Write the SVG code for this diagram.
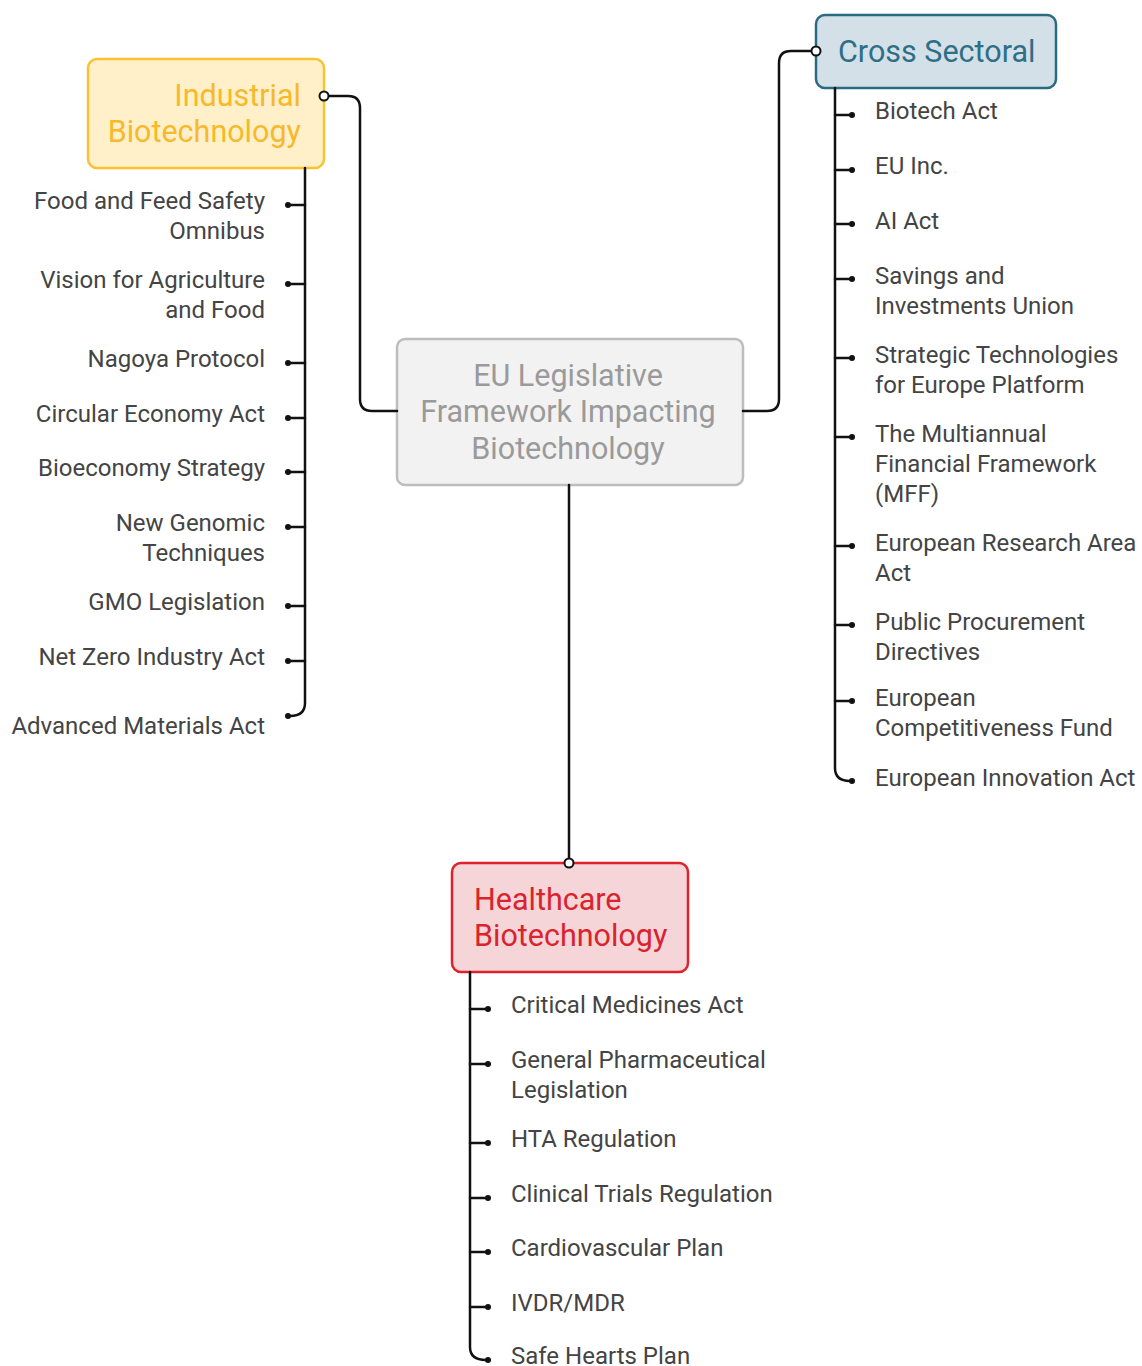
<svg xmlns="http://www.w3.org/2000/svg" width="1142" height="1366" viewBox="0 0 1142 1366">
<style>
.t{font-family:Roboto,"Liberation Sans",sans-serif;font-size:24px;fill:#444}
.r{text-anchor:end}
.h{font-family:Roboto,"Liberation Sans",sans-serif;font-size:30.5px}
.ln{fill:none;stroke:#111;stroke-width:2.5;stroke-linecap:round}
.dot{fill:#111}
.oc{fill:#fff;stroke:#111;stroke-width:2}
</style>
<rect width="1142" height="1366" fill="#fff"/>
<g id="central">
<rect x="397" y="339" width="346" height="146" rx="8" fill="#f2f2f2" stroke="#bdbdbd" stroke-width="2.5"/>
<text class="h" fill="#9a9a9a" text-anchor="middle"><tspan x="568" y="386">EU Legislative</tspan><tspan x="568" y="422">Framework Impacting</tspan><tspan x="568" y="459">Biotechnology</tspan></text>
</g>
<g id="industrial">
<rect x="88" y="59" width="236" height="109" rx="9" fill="#fff0c9" stroke="#f8c232" stroke-width="2.5"/>
<text class="h r" fill="#f6b92c"><tspan x="301" y="106">Industrial</tspan><tspan x="301" y="142">Biotechnology</tspan></text>
</g>
<g id="cross">
<rect x="816" y="15" width="240" height="73" rx="9" fill="#d4e0e7" stroke="#2b6b82" stroke-width="2.5"/>
<text class="h" fill="#2e6f88" x="838" y="62">Cross Sectoral</text>
</g>
<g id="healthcare">
<rect x="452" y="863" width="236" height="109" rx="9" fill="#f5d5d8" stroke="#e0212c" stroke-width="2.5"/>
<text class="h" fill="#d9232e"><tspan x="474" y="910">Healthcare</tspan><tspan x="474" y="946">Biotechnology</tspan></text>
</g>
<g id="industrial-items">
<text class="t r"><tspan x="265" y="209">Food and Feed Safety</tspan><tspan x="265" y="239">Omnibus</tspan></text>
<text class="t r"><tspan x="265" y="288">Vision for Agriculture</tspan><tspan x="265" y="318">and Food</tspan></text>
<text class="t r" x="265" y="367">Nagoya Protocol</text>
<text class="t r" x="265" y="422">Circular Economy Act</text>
<text class="t r" x="265" y="476">Bioeconomy Strategy</text>
<text class="t r"><tspan x="265" y="531">New Genomic</tspan><tspan x="265" y="561">Techniques</tspan></text>
<text class="t r" x="265" y="610">GMO Legislation</text>
<text class="t r" x="265" y="665">Net Zero Industry Act</text>
<text class="t r" x="265" y="734">Advanced Materials Act</text>
</g>
<g id="cross-items">
<text class="t" x="875" y="119">Biotech Act</text>
<text class="t" x="875" y="174">EU Inc.</text>
<text class="t" x="875" y="229">AI Act</text>
<text class="t"><tspan x="875" y="284">Savings and</tspan><tspan x="875" y="314">Investments Union</tspan></text>
<text class="t"><tspan x="875" y="363">Strategic Technologies</tspan><tspan x="875" y="393">for Europe Platform</tspan></text>
<text class="t"><tspan x="875" y="442">The Multiannual</tspan><tspan x="875" y="472">Financial Framework</tspan><tspan x="875" y="502">(MFF)</tspan></text>
<text class="t"><tspan x="875" y="551">European Research Area</tspan><tspan x="875" y="581">Act</tspan></text>
<text class="t"><tspan x="875" y="630">Public Procurement</tspan><tspan x="875" y="660">Directives</tspan></text>
<text class="t"><tspan x="875" y="706">European</tspan><tspan x="875" y="736">Competitiveness Fund</tspan></text>
<text class="t" x="875" y="786">European Innovation Act</text>
</g>
<g id="healthcare-items">
<text class="t" x="511" y="1013">Critical Medicines Act</text>
<text class="t"><tspan x="511" y="1068">General Pharmaceutical</tspan><tspan x="511" y="1098">Legislation</tspan></text>
<text class="t" x="511" y="1147">HTA Regulation</text>
<text class="t" x="511" y="1202">Clinical Trials Regulation</text>
<text class="t" x="511" y="1256">Cardiovascular Plan</text>
<text class="t" x="511" y="1311">IVDR/MDR</text>
<text class="t" x="511" y="1364">Safe Hearts Plan</text>
</g>
<g id="connectors">
<path class="ln" d="M397 411 H372 Q360 411 360 399 V108 Q360 96 348 96 H328"/>
<circle class="oc" cx="324" cy="96" r="4.5"/>
<path class="ln" d="M743 411 H767 Q779 411 779 399 V63 Q779 51 791 51 H812"/>
<circle class="oc" cx="816" cy="51" r="4.5"/>
<path class="ln" d="M569 485 V859"/>
<circle class="oc" cx="569" cy="863" r="4.5"/>
<path class="ln" d="M305 168 V703 Q305 716 290 716"/>
<g class="ln">
<path d="M305 205 H288"/><path d="M305 284 H288"/><path d="M305 363 H288"/><path d="M305 418 H288"/><path d="M305 472 H288"/><path d="M305 527 H288"/><path d="M305 606 H288"/><path d="M305 661 H288"/>
</g>
<g class="dot">
<circle cx="288" cy="205" r="3"/><circle cx="288" cy="284" r="3"/><circle cx="288" cy="363" r="3"/><circle cx="288" cy="418" r="3"/><circle cx="288" cy="472" r="3"/><circle cx="288" cy="527" r="3"/><circle cx="288" cy="606" r="3"/><circle cx="288" cy="661" r="3"/><circle cx="288" cy="716" r="3"/>
</g>
<path class="ln" d="M835 88 V768 Q835 781 850 781"/>
<g class="ln">
<path d="M835 115 H852"/><path d="M835 170 H852"/><path d="M835 224 H852"/><path d="M835 279 H852"/><path d="M835 358 H852"/><path d="M835 437 H852"/><path d="M835 546 H852"/><path d="M835 625 H852"/><path d="M835 701 H852"/>
</g>
<g class="dot">
<circle cx="852" cy="115" r="3"/><circle cx="852" cy="170" r="3"/><circle cx="852" cy="224" r="3"/><circle cx="852" cy="279" r="3"/><circle cx="852" cy="358" r="3"/><circle cx="852" cy="437" r="3"/><circle cx="852" cy="546" r="3"/><circle cx="852" cy="625" r="3"/><circle cx="852" cy="701" r="3"/><circle cx="852" cy="781" r="3"/>
</g>
<path class="ln" d="M470 972 V1347 Q470 1360 486 1360"/>
<g class="ln">
<path d="M470 1009 H488"/><path d="M470 1064 H488"/><path d="M470 1143 H488"/><path d="M470 1198 H488"/><path d="M470 1252 H488"/><path d="M470 1307 H488"/>
</g>
<g class="dot">
<circle cx="488" cy="1009" r="3"/><circle cx="488" cy="1064" r="3"/><circle cx="488" cy="1143" r="3"/><circle cx="488" cy="1198" r="3"/><circle cx="488" cy="1252" r="3"/><circle cx="488" cy="1307" r="3"/><circle cx="488" cy="1360" r="3"/>
</g>
</g>
</svg>
